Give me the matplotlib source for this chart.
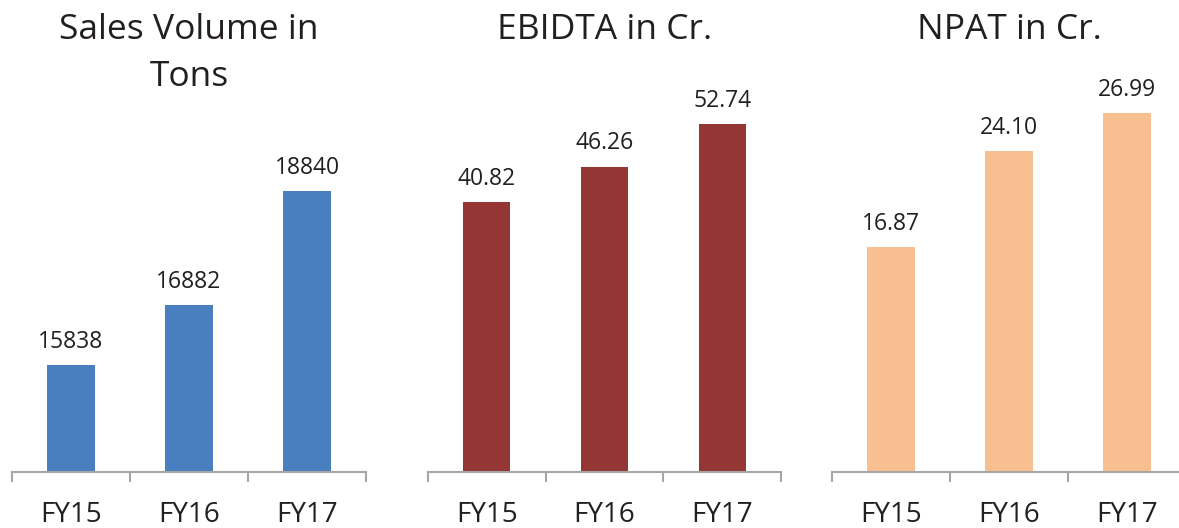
import matplotlib.pyplot as plt

plt.rcParams['font.family'] = ['Open Sans', 'DejaVu Sans']

years = ['FY15', 'FY16', 'FY17']
sales_tons = [15838, 16882, 18840]
ebidta_cr = [40.82, 46.26, 52.74]
npat_cr = [16.87, 24.10, 26.99]

sales_labels = ['15838', '16882', '18840']
ebidta_labels = ['40.82', '46.26', '52.74']
npat_labels = ['16.87', '24.10', '26.99']

titles = ['Sales Volume in\nTons', 'EBIDTA in Cr.', 'NPAT in Cr.']
colors = ['#4a7fbf', '#943634', '#f8c090']

W, H = 1179, 528
fig = plt.figure(figsize=(W / 100, H / 100), dpi=100)

# panel left/right edges in pixels, baseline and top shared
edges = [(12, 366), (428, 781), (832, 1186)]
base_px, top_px = 472, 60
ylims = [(14000, 21096), (0, 62.4), (0, 30.95)]

panels = [(sales_tons, sales_labels), (ebidta_cr, ebidta_labels), (npat_cr, npat_labels)]
text_col = '#231f20'

for i, (vals, labs) in enumerate(panels):
    x0, x1 = edges[i]
    ax = fig.add_axes([x0 / W, (H - base_px) / H, (x1 - x0) / W, (base_px - top_px) / H])
    xs = range(len(years))
    ax.bar(xs, vals, width=0.4, color=colors[i], zorder=2)
    ax.set_xlim(-0.5, 2.5)
    ax.set_ylim(*ylims[i])
    for x, v, s in zip(xs, vals, labs):
        ax.annotate(s, (x, v), xytext=(0, 8), textcoords='offset points',
                    ha='center', va='bottom', fontsize=16.5, color=text_col)
    for side in ['left', 'right', 'top']:
        ax.spines[side].set_visible(False)
    ax.spines['bottom'].set_color('#a6a6a6')
    ax.spines['bottom'].set_linewidth(1.5)
    ax.set_yticks([])
    ax.set_xticks(list(xs))
    ax.set_xticklabels(years, fontsize=20, color=text_col)
    ax.tick_params(axis='x', which='major', length=0, pad=21)
    ax.set_xticks([-0.5, 0.5, 1.5, 2.5], minor=True)
    ax.tick_params(axis='x', which='minor', length=7.5, width=1.5, color='#a6a6a6')

    cx = (x0 + x1) / 2 / W
    fig.text(cx, 1 - 13 / H, titles[i], ha='center', va='top', fontsize=25.5,
             color=text_col, linespacing=1.5)

fig.savefig('out.png', dpi=100)
